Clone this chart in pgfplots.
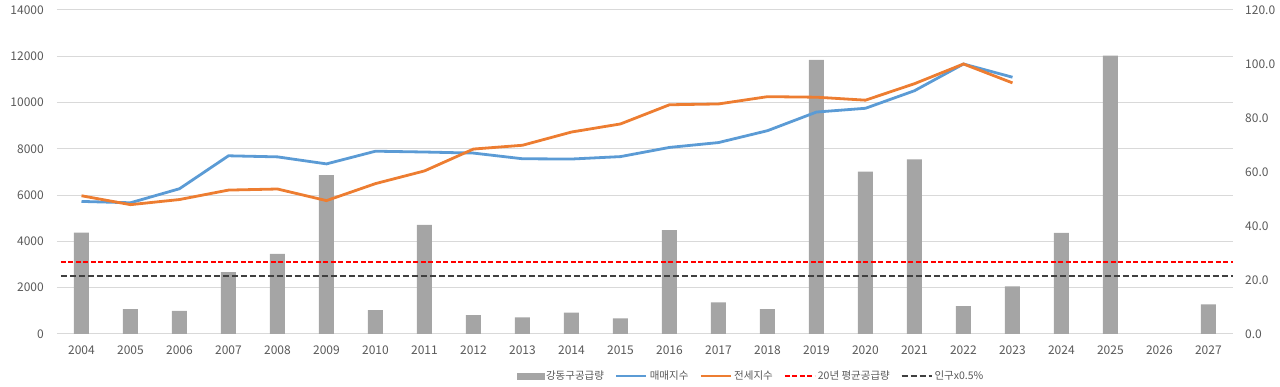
\documentclass[border=0pt]{standalone}
\usepackage{fontspec}
\setmainfont{Noto Sans CJK KR}
\usepackage{pgfplots}
\pgfplotsset{compat=1.18}
\definecolor{barc}{HTML}{A5A5A5}
\definecolor{bluec}{HTML}{5B9BD5}
\definecolor{orangec}{HTML}{ED7D31}
\definecolor{gridc}{HTML}{D9D9D9}
\definecolor{txt}{HTML}{595959}
\definecolor{dgray}{HTML}{404040}
\begin{document}
\begin{tikzpicture}
\path[use as bounding box] (-57pt,-53pt) rectangle (1223pt,334pt);
\begin{axis}[
  scale only axis, width=1176pt, height=324pt,
  at={(0pt,0pt)}, anchor=south west,
  xmin=2003.5, xmax=2027.5, ymin=0, ymax=14000,
  xtick={2004,...,2027}, ytick={0,2000,...,14000},
  scaled y ticks=false,
  /pgf/number format/1000 sep={},
  /pgf/number format/assume math mode=true,
  axis line style={draw=none}, tick style={draw=none},
  ymajorgrids, grid style={gridc, line width=1pt},
  tick label style={font=\fontsize{12}{14}\selectfont, text=txt},
  yticklabel style={inner sep=0pt, xshift=-13pt},
  xticklabel style={inner sep=0pt, yshift=-12pt},
]
\addplot[ybar, bar width=15pt, fill=barc, draw=none] coordinates {
(2004,4380) (2005,1080) (2006,1000) (2007,2670) (2008,3460) (2009,6870)
(2010,1030) (2011,4710) (2012,820) (2013,720) (2014,920) (2015,680)
(2016,4490) (2017,1370) (2018,1080) (2019,11840) (2020,7020) (2021,7550)
(2022,1200) (2023,2060) (2024,4370) (2025,12030) (2027,1280)};
\addplot[red, line width=2pt, dash pattern=on 5pt off 2.5pt] coordinates {(2003.58,3100) (2027.5,3100)};
\addplot[dgray, line width=1.7pt, dash pattern=on 6pt off 3pt] coordinates {(2003.58,2520) (2027.5,2520)};
\end{axis}
\begin{axis}[
  scale only axis, width=1176pt, height=324pt,
  at={(0pt,0pt)}, anchor=south west,
  xmin=2003.5, xmax=2027.5, ymin=0, ymax=120,
  axis y line*=right, axis x line=none,
  ytick={0,20,...,120},
  /pgf/number format/fixed, /pgf/number format/fixed zerofill,
  /pgf/number format/precision=1,
  /pgf/number format/assume math mode=true,
  axis line style={draw=none}, tick style={draw=none},
  tick label style={font=\fontsize{12}{14}\selectfont, text=txt},
  yticklabel style={inner sep=0pt, xshift=12pt},
  legend columns=5,
  legend style={at={(0.5,0)}, anchor=center, xshift=106pt, yshift=-42pt, draw=none,
    font=\fontsize{10.5}{12}\selectfont, text=txt,
    /tikz/every even column/.append style={column sep=9pt}},
  legend cell align=left,
  legend image code/.code={\draw[#1] (0pt,0pt) -- (30pt,0pt);},
]
\addlegendimage{legend image code/.code={\fill[barc] (0pt,-3pt) rectangle (27pt,3pt);}}
\addlegendentry{강동구공급량}
\addplot[bluec, line width=2.8pt] coordinates {
(2004,49.1) (2005,48.6) (2006,53.8) (2007,66.0) (2008,65.6) (2009,63.0)
(2010,67.7) (2011,67.4) (2012,67.0) (2013,64.9) (2014,64.8) (2015,65.7)
(2016,69.1) (2017,70.9) (2018,75.3) (2019,82.2) (2020,83.6) (2021,90.1)
(2022,100.0) (2023,95.1)};
\addlegendentry{매매지수}
\addplot[orangec, line width=2.8pt] coordinates {
(2004,51.2) (2005,47.9) (2006,49.8) (2007,53.3) (2008,53.7) (2009,49.4)
(2010,55.7) (2011,60.4) (2012,68.5) (2013,69.9) (2014,74.8) (2015,77.8)
(2016,84.9) (2017,85.2) (2018,87.9) (2019,87.7) (2020,86.6) (2021,92.7)
(2022,100.0) (2023,93.0)};
\addlegendentry{전세지수}
\addlegendimage{red, line width=2pt, dash pattern=on 5pt off 2.5pt}
\addlegendentry{20년 평균공급량}
\addlegendimage{dgray, line width=1.7pt, dash pattern=on 6pt off 3pt}
\addlegendentry{인구x0.5\%}
\end{axis}
\end{tikzpicture}
\end{document}
